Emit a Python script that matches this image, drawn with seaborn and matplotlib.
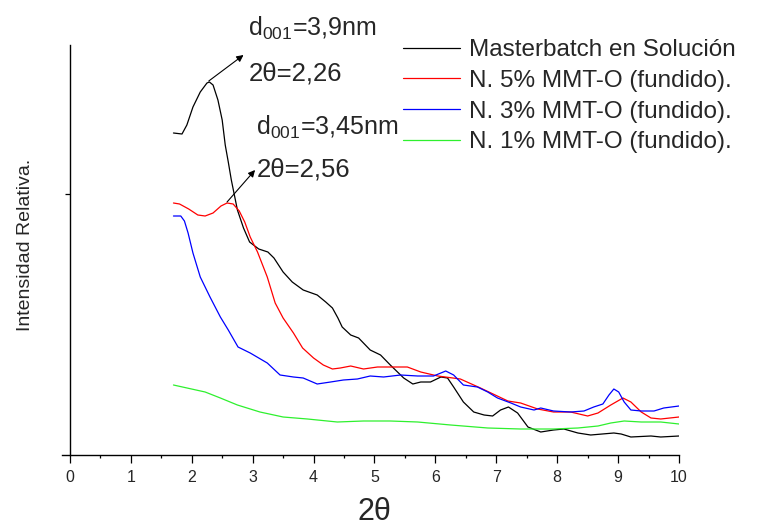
import pandas as pd
import seaborn as sns
import matplotlib.pyplot as plt
from matplotlib.ticker import MultipleLocator

# 2theta / intensidad relativa (unidades arbitrarias)
x_master = [1.70, 1.84, 1.92, 2.02, 2.14, 2.25, 2.29, 2.35, 2.43, 2.50,
            2.55, 2.60, 2.65, 2.75, 2.85, 2.95, 3.10, 3.25, 3.35, 3.50,
            3.65, 3.83, 4.06, 4.20, 4.31, 4.40, 4.47, 4.61, 4.74, 4.93,
            5.10, 5.26, 5.48, 5.63, 5.76, 5.92, 6.09, 6.20, 6.30, 6.46,
            6.63, 6.80, 6.94, 7.07, 7.20, 7.35, 7.52, 7.73, 7.94, 8.11,
            8.34, 8.55, 8.93, 9.05, 9.21, 9.54, 9.70, 10.0]
y_master = [322, 321, 330, 348, 363, 372, 373, 370, 355, 335,
            310, 293, 275, 245, 227, 213, 206, 203, 197, 183,
            173, 165, 160, 153, 147, 137, 128, 120, 117, 105,
            100, 90, 77, 71, 73, 73, 78, 77, 68, 53,
            43, 40, 39, 45, 48, 42, 28, 23, 25, 26,
            22, 20, 22, 21, 18, 19, 18, 19]

x_5 = [1.70, 1.80, 1.95, 2.10, 2.22, 2.35, 2.48, 2.58, 2.68, 2.78,
       2.87, 2.96, 3.08, 3.24, 3.37, 3.50, 3.67, 3.82, 4.00, 4.16,
       4.31, 4.44, 4.61, 4.82, 5.05, 5.26, 5.54, 5.76, 6.04, 6.41,
       6.74, 7.19, 7.40, 7.68, 7.94, 8.22, 8.50, 8.67, 8.88, 9.08,
       9.21, 9.38, 9.54, 9.70, 10.0]
y_5 = [252, 251, 246, 240, 239, 242, 249, 252, 251, 244,
       233, 218, 203, 178, 152, 137, 122, 107, 97, 90,
       86, 87, 89, 86, 88, 88, 88, 83, 79, 76,
       67, 54, 52, 46, 43, 43, 39, 42, 50, 57,
       53, 43, 37, 36, 38]

x_3 = [1.70, 1.82, 1.88, 1.94, 2.02, 2.14, 2.30, 2.47, 2.60, 2.76,
       2.96, 3.24, 3.45, 3.67, 3.83, 4.06, 4.28, 4.49, 4.72, 4.93,
       5.15, 5.43, 5.71, 5.97, 6.17, 6.30, 6.46, 6.69, 6.86, 7.02,
       7.24, 7.40, 7.62, 7.73, 7.94, 8.22, 8.44, 8.60, 8.75, 8.85,
       8.93, 9.01, 9.10, 9.21, 9.38, 9.59, 9.75, 10.0]
y_3 = [239, 239, 234, 222, 202, 178, 158, 138, 125, 108,
       102, 92, 80, 78, 77, 71, 73, 75, 76, 79,
       78, 80, 79, 79, 84, 80, 70, 68, 63, 57,
       52, 48, 45, 47, 44, 43, 44, 48, 51, 60,
       66, 63, 53, 45, 44, 44, 47, 49]

x_1 = [1.70, 2.22, 2.47, 2.75, 3.12, 3.50, 3.90, 4.39, 4.82, 5.26,
       5.71, 6.25, 6.86, 7.40, 7.94, 8.34, 8.67, 8.88, 9.10, 9.38,
       9.70, 10.0]
y_1 = [70, 63, 57, 50, 43, 38, 36, 33, 34, 34,
       33, 30, 27, 26, 26, 27, 29, 32, 34, 33,
       33, 31]

series = ['Masterbatch en Solución', 'N. 5% MMT-O (fundido).',
          'N. 3% MMT-O (fundido).', 'N. 1% MMT-O (fundido).']
colors = ['black', '#ff0000', '#0000ff', '#2ef02e']

sns.set_style('ticks')
plt.rcParams['font.family'] = ['Liberation Sans', 'DejaVu Sans']
plt.rcParams['mathtext.fontset'] = 'custom'
plt.rcParams['mathtext.rm'] = 'Liberation Sans'
plt.rcParams['mathtext.it'] = 'Liberation Sans:italic'

frames = []
for name, xs, ys in zip(series, [x_master, x_5, x_3, x_1], [y_master, y_5, y_3, y_1]):
    frames.append(pd.DataFrame({'2theta': xs, 'I': ys, 'serie': name}))
df = pd.concat(frames, ignore_index=True)

fig = plt.figure(figsize=(7.66, 5.26), dpi=100)
ax = fig.add_axes([62 / 766, 71 / 526, 617 / 766, 410 / 526])
sns.lineplot(data=df, x='2theta', y='I', hue='serie', hue_order=series,
             palette=colors, sort=False, estimator=None, linewidth=0.9, ax=ax)
for ln in ax.lines:
    ln.set_solid_joinstyle('round')

ax.set_xlim(-0.13, 10)
ax.set_ylim(0, 410)
sns.despine(ax=ax)
ax.spines['left'].set_position(('data', 0))
for s in ['left', 'bottom']:
    ax.spines[s].set_color('black')
    ax.spines[s].set_linewidth(1.0)

ax.set_xticks(range(11))
ax.xaxis.set_minor_locator(MultipleLocator(0.5))
ax.tick_params(axis='x', which='major', length=5.5, width=0.9, color='black',
               labelsize=11.5, pad=5)
ax.tick_params(axis='x', which='minor', length=2.5, width=0.9, color='black')
ax.set_yticks([261])
ax.set_yticklabels([])
ax.tick_params(axis='y', length=3.5, width=0.9, color='black')

ax.set_xlabel('2θ', fontsize=22)
ax.xaxis.set_label_coords(0.507, -0.103)
ax.set_ylabel('Intensidad Relativa.', fontsize=14)
ax.yaxis.set_label_coords(-0.046, 0.512)

# picos d001
ax.text(2.93, 419, r'd$_{001}$=3,9nm', fontsize=18, va='baseline')
ax.text(2.93, 374, '2θ=2,26', fontsize=18.5, va='baseline')
ax.annotate('', xy=(2.85, 400), xytext=(2.28, 374),
            arrowprops=dict(arrowstyle='-|>', color='black', lw=0.8,
                            shrinkA=0, shrinkB=0, mutation_scale=10),
            annotation_clip=False)
ax.text(3.06, 320, r'd$_{001}$=3,45nm', fontsize=18, va='baseline')
ax.text(3.06, 278, '2θ=2,56', fontsize=18.5, va='baseline')
ax.annotate('', xy=(3.04, 285), xytext=(2.58, 253),
            arrowprops=dict(arrowstyle='-|>', color='black', lw=0.8,
                            shrinkA=0, shrinkB=0, mutation_scale=10))

sns.move_legend(ax, 'upper left', bbox_to_anchor=(403 / 766, 487 / 526),
                bbox_transform=fig.transFigure, title=None, frameon=False,
                fontsize=17.5, handlelength=2.35, handletextpad=0.38,
                borderpad=0, borderaxespad=0, labelspacing=0.36)

fig.savefig('out.png', dpi=100)
